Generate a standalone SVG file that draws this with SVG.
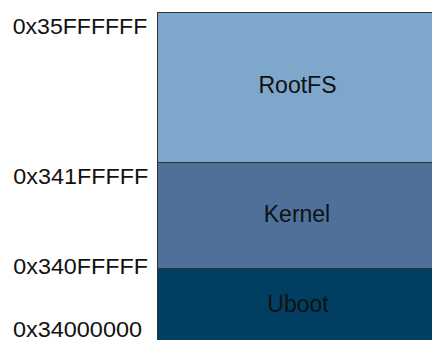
<svg xmlns="http://www.w3.org/2000/svg" width="432" height="340" viewBox="0 0 432 340">
<style>
.blk{stroke:#333333;stroke-width:1}
.lbl{font-family:"Liberation Sans",Arial,sans-serif;font-size:23px;fill:#111111;text-anchor:middle}
.addr{font-family:"Liberation Sans",Arial,sans-serif;font-size:22px;fill:#111111}
</style>
<rect width="432" height="340" fill="#ffffff"/>
<g id="rootfs">
<rect class="blk" x="157.5" y="12.5" width="290" height="150" fill="#7fa6cb"/>
<text class="lbl" x="297.5" y="93.3">RootFS</text>
</g>
<g id="kernel">
<rect class="blk" x="157.5" y="162.5" width="290" height="106" fill="#4f7099"/>
<text class="lbl" x="297" y="221.7">Kernel</text>
</g>
<g id="uboot">
<rect class="blk" x="157.5" y="268.5" width="290" height="90" fill="#003f62"/>
<text class="lbl" x="298" y="311.7">Uboot</text>
</g>
<g id="addresses">
<text class="addr" x="12.7" y="34.3" textLength="134.6" lengthAdjust="spacingAndGlyphs">0x35FFFFFF</text>
<text class="addr" x="13.3" y="184.3" textLength="135" lengthAdjust="spacingAndGlyphs">0x341FFFFF</text>
<text class="addr" x="13.3" y="274.3" textLength="134.7" lengthAdjust="spacingAndGlyphs">0x340FFFFF</text>
<text class="addr" x="13" y="337.2" textLength="129" lengthAdjust="spacingAndGlyphs">0x34000000</text>
</g>
<g id="connectors"></g>
</svg>
